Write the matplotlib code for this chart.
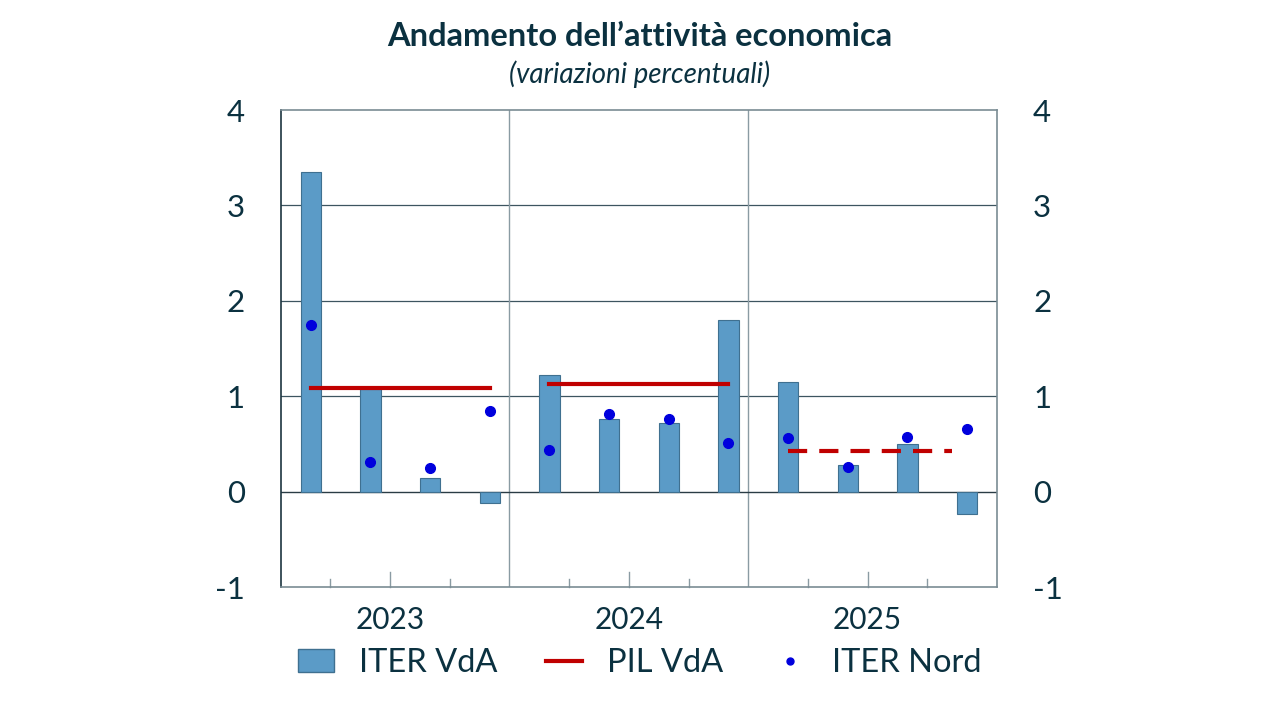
import numpy as np
import matplotlib.pyplot as plt
from matplotlib.patches import Patch
from matplotlib.lines import Line2D

plt.rcParams['font.family'] = ['Lato', 'DejaVu Sans']

# dati trimestrali (variazioni percentuali)
anni = ['2023', '2024', '2025']
iter_vda = [3.35, 1.08, 0.14, -0.12, 1.22, 0.76, 0.72, 1.80, 1.15, 0.28, 0.50, -0.23]
iter_nord = [1.75, 0.31, 0.25, 0.84, 0.44, 0.81, 0.76, 0.51, 0.56, 0.26, 0.57, 0.66]
pil_vda = [1.09, 1.13, 0.43]
pil_inizio = [0, 4, 8]
pil_fine = [3, 7, 10.75]
pil_stile = ['-', '-', '--']
y_ticks = [-1, 0, 1, 2, 3, 4]

testo = '#0b3140'
barre = '#5b9bc7'
rosso = '#c00000'
blu = '#0000dd'

fig = plt.figure(figsize=(12.8, 7.2), dpi=100)
ax = fig.add_axes([0.2195, 0.1847, 0.5594, 0.6625])

x = np.arange(len(iter_vda))
ax.bar(x, iter_vda, width=0.34, color=barre, edgecolor='#3f7090', linewidth=0.8, zorder=3)
for v, a, b, ls in zip(pil_vda, pil_inizio, pil_fine, pil_stile):
    if ls == '--':
        ax.plot([a, b], [v, v], color=rosso, lw=3, ls=(0, (4.6, 2.9)), zorder=4)
    else:
        ax.plot([a, b], [v, v], color=rosso, lw=3, zorder=4)
ax.plot(x, iter_nord, 'o', color=blu, ms=7, zorder=5)

ax.set_xlim(-0.5, 11.5)
ax.set_ylim(-1, 4)

for yv in [1, 2, 3]:
    ax.axhline(yv, color='#3d5560', lw=0.9, zorder=1)
ax.axhline(0, color='#2a3c45', lw=1.0, zorder=2)
for xv in [3.33, 7.33]:
    ax.axvline(xv, color='#8a9ba3', lw=1.0, zorder=1)

# tacche sull'asse orizzontale
for k in range(3):
    for j, h in zip([0.33, 1.33, 2.33], [0.08, 0.16, 0.08]):
        xv = 4 * k + j
        ax.plot([xv, xv], [-1, -1 + h], color='#8a9ba3', lw=1.0, zorder=1, clip_on=False)
    ax.text(4 * k + 1.33, -1.2, anni[k], ha='center', va='top', fontsize=21.5, color=testo)

ax.set_xticks([])
ax.set_yticks(y_ticks)
ax.set_yticklabels([str(t) for t in y_ticks])
ax.tick_params(axis='y', length=0, pad=26, labelsize=22.5, labelcolor=testo,
               left=True, right=True, labelleft=True, labelright=True)
for s in ['top', 'right', 'bottom']:
    ax.spines[s].set_color('#7a8c94')
ax.spines['left'].set_color('#1d3540')
for s in ax.spines.values():
    s.set_linewidth(1.2)

fig.text(0.5, 1 - 36 / 720, 'Andamento dell\u2019attivit\u00e0 economica', ha='center', va='center',
         fontsize=23.5, fontweight='bold', color=testo)
fig.text(0.5, 1 - 74 / 720, '(variazioni percentuali)', ha='center', va='center',
         fontsize=20, style='italic', color=testo)

handles = [Patch(facecolor=barre, edgecolor='#3f7090'),
           Line2D([0], [0], color=rosso, lw=3),
           Line2D([0], [0], marker='o', color=blu, ls='', ms=5)]
fig.legend(handles, ['ITER VdA', 'PIL VdA', 'ITER Nord'], loc='center',
           bbox_to_anchor=(0.5, 1 - 663 / 720), ncol=3, frameon=False, fontsize=23.5,
           labelcolor=testo, handlelength=1.1, handleheight=0.7, columnspacing=1.5,
           handletextpad=0.75)

fig.savefig('out.png', dpi=100, facecolor='white')
